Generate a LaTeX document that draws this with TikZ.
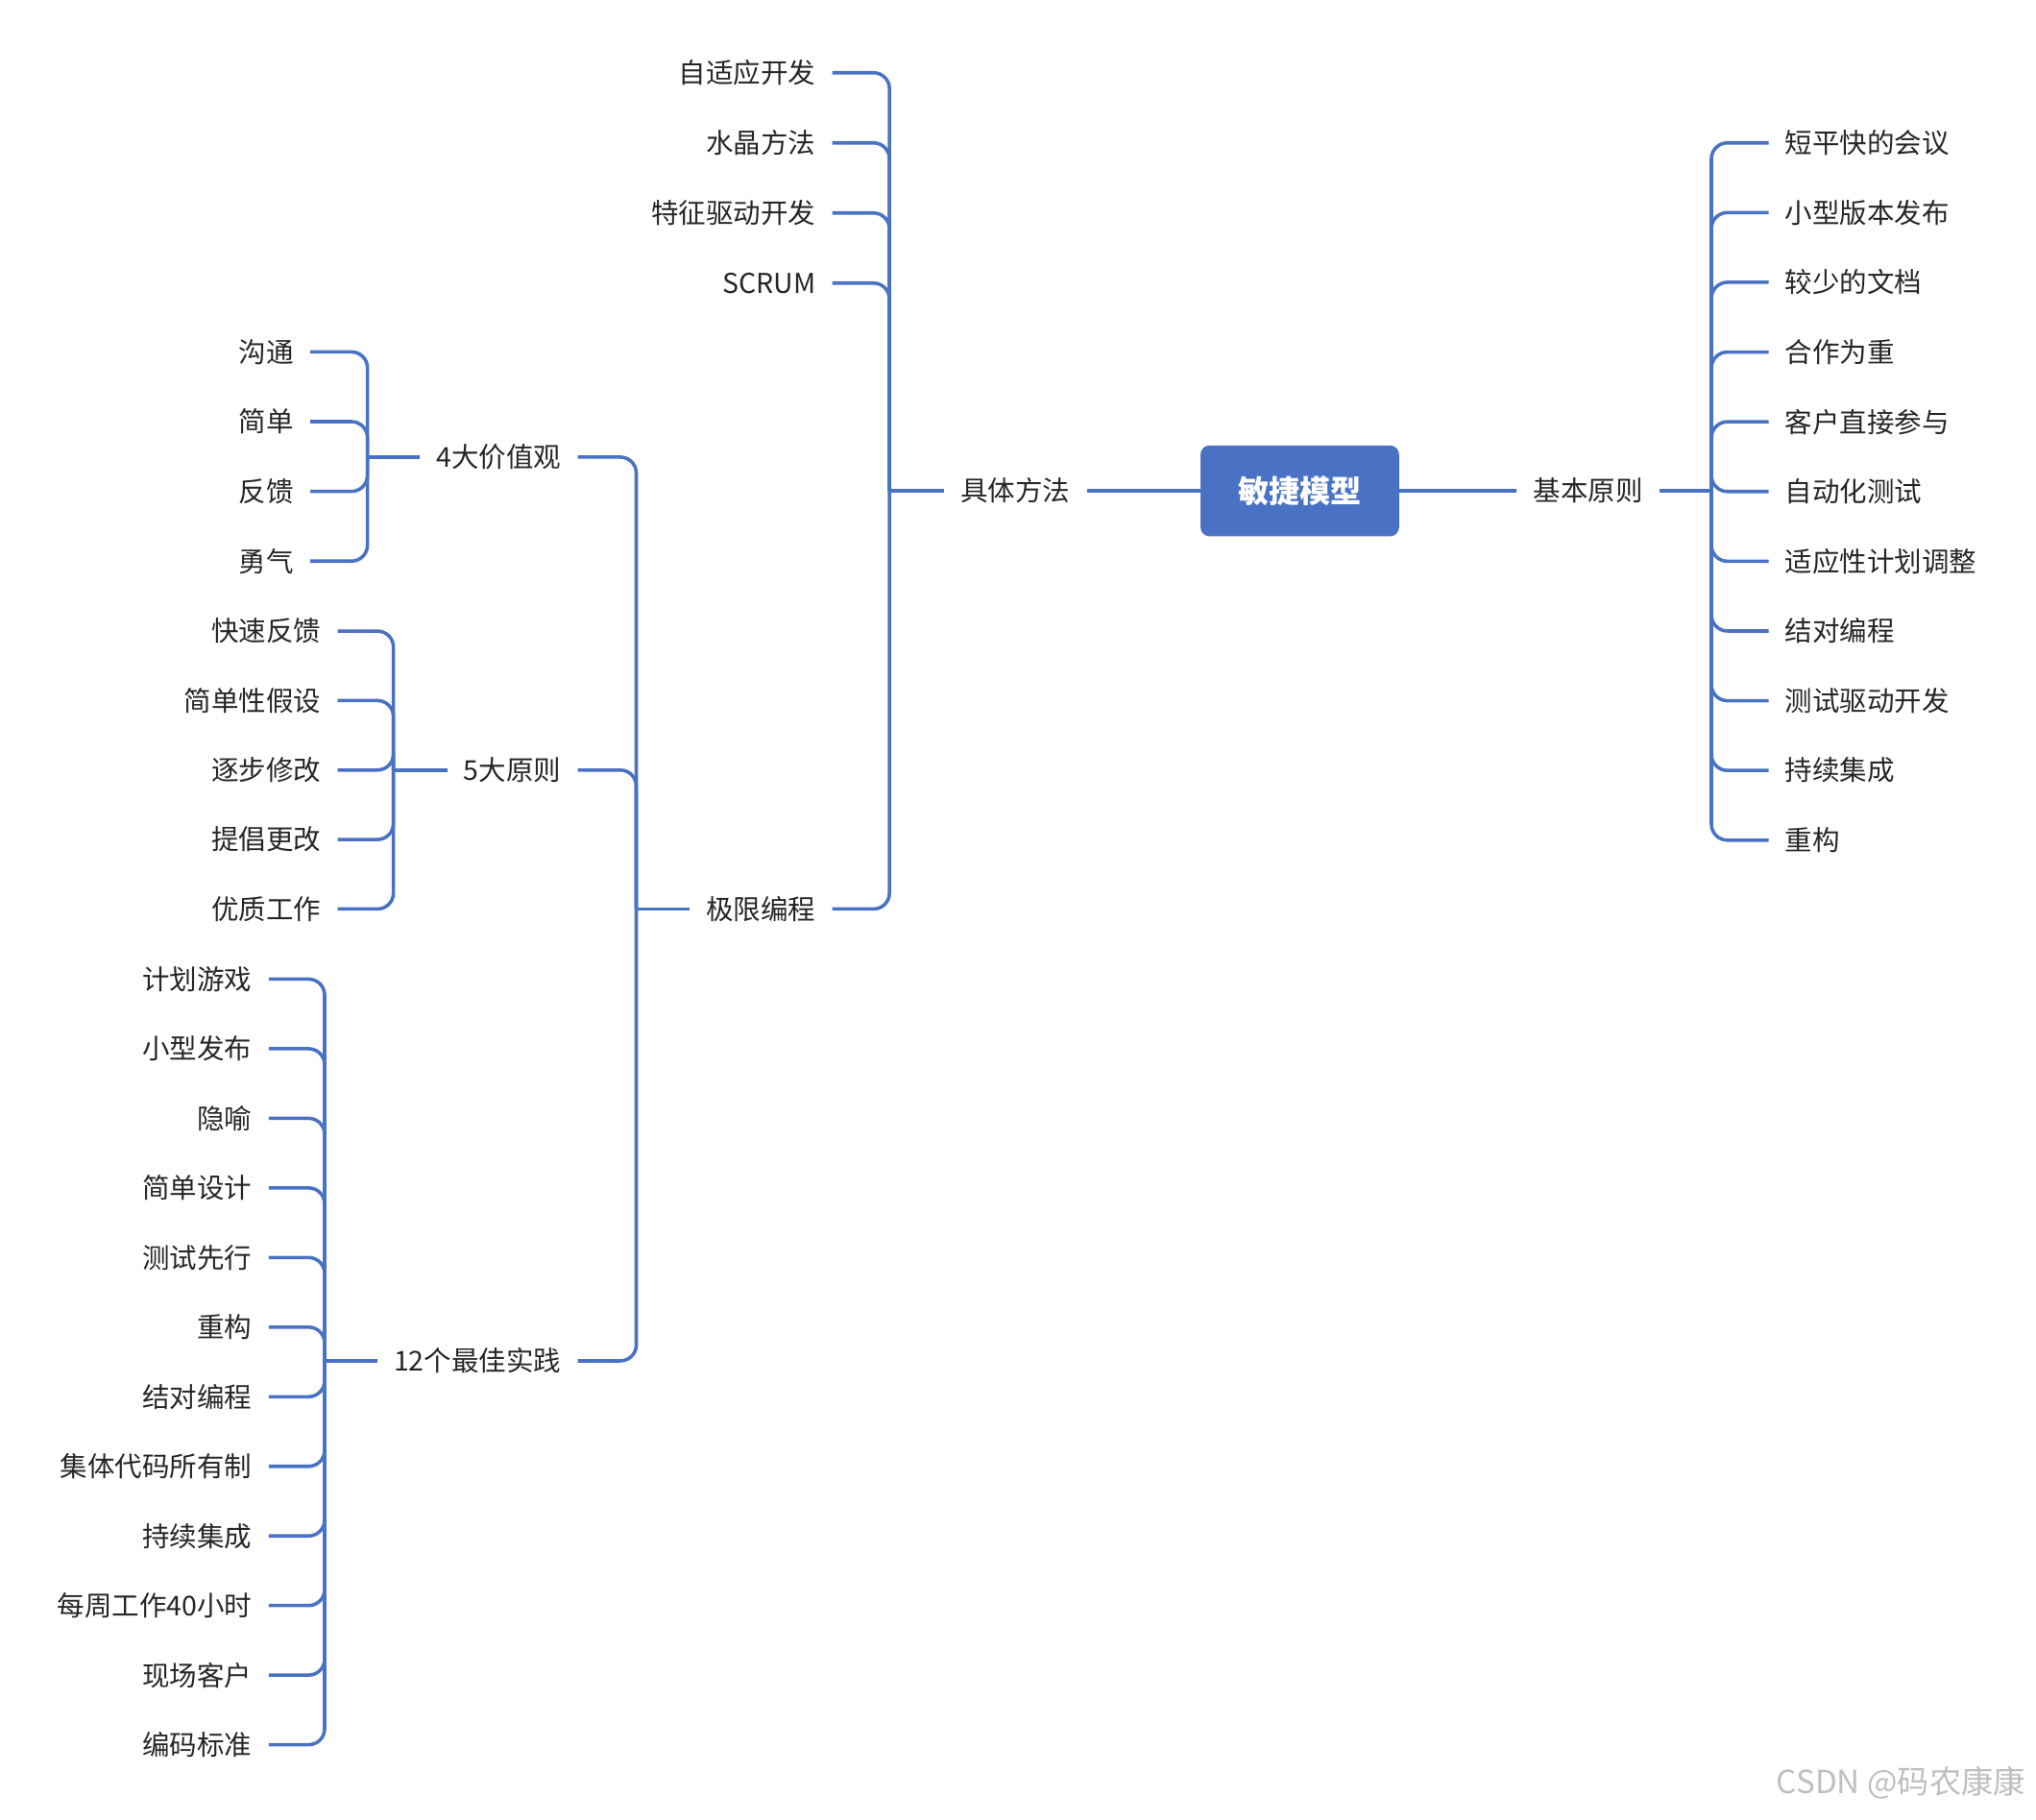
\documentclass[tikz,border=0pt]{standalone}
\usepackage{fontspec}
\setmainfont{Noto Sans CJK SC}
\definecolor{mblue}{RGB}{74,114,196}
\tikzset{
  link/.style={draw=mblue, line width=1.5pt, rounded corners=7pt},
  lbl/.style={inner xsep=0.25cm, inner ysep=2pt, font=\fontsize{12}{14}\selectfont, text=black!85},
  leafL/.style={lbl, anchor=east},
  leafR/.style={lbl, anchor=west},
  rootbox/.style={fill=mblue, rounded corners=4pt, text=white, font=\fontsize{13.5}{16}\selectfont\bfseries, minimum width=3.06cm, minimum height=1.4cm}
}
\begin{document}
\begin{tikzpicture}[x=0.02cm, y=-0.02cm]
\useasboundingbox (0,0) rectangle (1568,1401);
% root
\node (root) [rootbox] at (1001,378) {敏捷模型};
% right side
\node (basic) [leafR] at (1168,378) {基本原则};
\coordinate (jR) at (1318,378);
\draw [link] (root.east) -- (basic.west);
\draw [link] (basic.east) -- (jR);
\foreach \t [count=\i] in {短平快的会议,小型版本发布,较少的文档,合作为重,客户直接参与,自动化测试,适应性计划调整,结对编程,测试驱动开发,持续集成,重构}{
  \node (r\i) [leafR] at (1362,{110+53.7*(\i-1)}) {\t};
  \draw [link] (jR) |- (r\i.west);
}
% left side
\node (method) [leafL] at (837,378) {具体方法};
\coordinate (jM) at (685,378);
\draw [link] (root.west) -- (method.east);
\draw [link] (method.west) -- (jM);
\foreach \t [count=\i] in {自适应开发,水晶方法,特征驱动开发,SCRUM}{
  \node (m\i) [leafL] at (641,{56+54*(\i-1)}) {\t};
  \draw [link] (jM) |- (m\i.east);
}
\node (xp) [leafL] at (641,700) {极限编程};
\draw [link] (jM) |- (xp.east);
\coordinate (jX) at (490,700);
\draw [link] (xp.west) -- (jX);
% XP children
\node (val) [leafL] at (445,352) {4大价值观};
\node (pri) [leafL] at (445,593) {5大原则};
\node (best) [leafL] at (445,1048) {12个最佳实践};
\foreach \n in {val,pri,best}
  \draw [link] (jX) |- (\n.east);
\coordinate (jV) at (283,352);
\coordinate (jP) at (303,593);
\coordinate (jB) at (250,1048);
\draw [link] (val.west) -- (jV);
\draw [link] (pri.west) -- (jP);
\draw [link] (best.west) -- (jB);
\foreach \t [count=\i] in {沟通,简单,反馈,勇气}{
  \node (v\i) [leafL] at (239,{271+53.7*(\i-1)}) {\t};
  \draw [link] (jV) |- (v\i.east);
}
\foreach \t [count=\i] in {快速反馈,简单性假设,逐步修改,提倡更改,优质工作}{
  \node (p\i) [leafL] at (260,{486+53.5*(\i-1)}) {\t};
  \draw [link] (jP) |- (p\i.east);
}
\foreach \t [count=\i] in {计划游戏,小型发布,隐喻,简单设计,测试先行,重构,结对编程,集体代码所有制,持续集成,每周工作40小时,现场客户,编码标准}{
  \node (b\i) [leafL] at (207,{754+53.6*(\i-1)}) {\t};
  \draw [link] (jB) |- (b\i.east);
}
% watermark
\node (mark) [anchor=east, text=black!25, font=\fontsize{14}{16}\selectfont] at (1566,1373) {CSDN @码农康康};
\end{tikzpicture}
\end{document}
